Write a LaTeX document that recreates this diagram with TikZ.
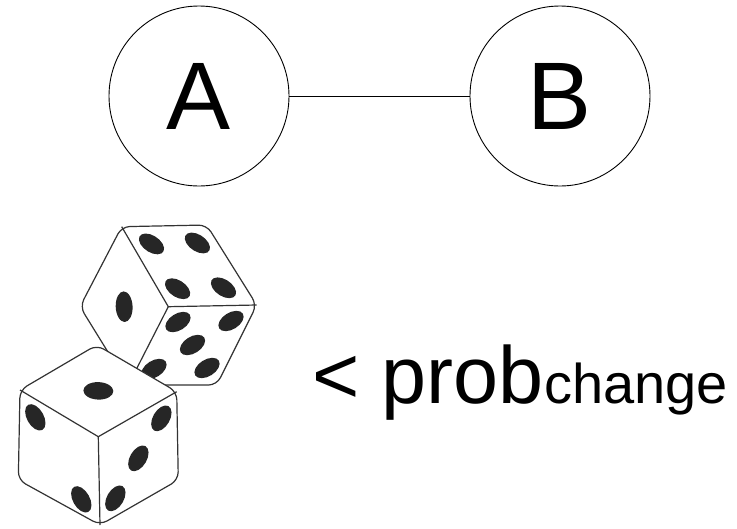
\documentclass[tikz,border=0pt]{standalone}
\usepackage{fontspec}
\setmainfont{Liberation Sans}
\begin{document}
\begin{tikzpicture}[x=1pt,y=-1pt,
  vertex/.style={circle, draw, line width=0.9pt, minimum size=180pt, inner sep=0pt,
    font=\fontsize{96}{96}\selectfont},
  link/.style={draw, line width=0.9pt},
  dieedge/.style={draw=black!80, line width=1.2pt, line join=round},
  pip/.style={fill=black!85},
]
\useasboundingbox (0,0) rectangle (737,528);

% graph with two vertices
\node[vertex] (A) at (199,96) {A};
\node[vertex] (B) at (560,96) {B};
\draw[link] (A) -- (B);

% probability label
\node[anchor=base west, inner sep=0pt, font=\fontsize{81}{81}\selectfont] (prob)
  at (312,403) {<~prob{\fontsize{56}{56}\selectfont change}};

% ---- back die ----
\coordinate (bt)  at (121.7,226.7);
\coordinate (btr) at (206.7,225);
\coordinate (br)  at (256.7,305);
\coordinate (bbr) at (216.7,385);
\coordinate (bb)  at (128.3,385);
\coordinate (bl)  at (80,306.7);
\coordinate (bc)  at (168.3,306.7);
\draw[dieedge, fill=white, rounded corners=8pt]
  (bt) -- (btr) -- (br) -- (bbr) -- (bb) -- (bl) -- cycle;
\draw[dieedge] (bt) -- (bc) -- (br);
\draw[dieedge] (bc) -- (bb);
% top face: four
\begin{scope}[shift={(bt)}, x={(85pt,1.7pt)}, y={(46.6pt,-80pt)}]
  \foreach \u/\v in {0.23/0.22, 0.77/0.22, 0.23/0.78, 0.77/0.78}
    \fill[pip] (\u,\v) circle[radius=0.13];
\end{scope}
% left face: one
\begin{scope}[shift={(bt)}, x={(46.6pt,-80pt)}, y={(-41.7pt,-80pt)}]
  \fill[pip] (0.5,0.5) circle[radius=0.135];
\end{scope}
% right face: five
\begin{scope}[shift={(bc)}, x={(88.4pt,1.7pt)}, y={(-40pt,-78.3pt)}]
  \foreach \u/\v in {0.2/0.2, 0.8/0.2, 0.5/0.5, 0.2/0.8, 0.8/0.8}
    \fill[pip] (\u,\v) circle[radius=0.13];
\end{scope}

% ---- front die ----
\coordinate (ft)  at (96.7,345);
\coordinate (fr)  at (176.7,391.7);
\coordinate (fbr) at (178.3,480);
\coordinate (fb)  at (100,525);
\coordinate (fbl) at (18.3,480);
\coordinate (fl)  at (20,390);
\coordinate (fc)  at (98.3,436.7);
\draw[dieedge, fill=white, rounded corners=8pt]
  (ft) -- (fr) -- (fbr) -- (fb) -- (fbl) -- (fl) -- cycle;
\draw[dieedge] (fl) -- (fc) -- (fr);
\draw[dieedge] (fc) -- (fb);
% top face: one
\begin{scope}[shift={(ft)}, x={(80pt,-46.7pt)}, y={(-76.7pt,-45pt)}]
  \fill[pip] (0.5,0.5) circle[radius=0.135];
\end{scope}
% left face: two
\begin{scope}[shift={(fl)}, x={(78.3pt,-46.7pt)}, y={(-1.7pt,-90pt)}]
  \foreach \u/\v in {0.2/0.2, 0.8/0.8}
    \fill[pip] (\u,\v) circle[radius=0.13];
\end{scope}
% right face: three
\begin{scope}[shift={(fc)}, x={(78.4pt,45pt)}, y={(1.7pt,-88.3pt)}]
  \foreach \u/\v in {0.8/0.2, 0.5/0.5, 0.2/0.8}
    \fill[pip] (\u,\v) circle[radius=0.13];
\end{scope}
\end{tikzpicture}
\end{document}
